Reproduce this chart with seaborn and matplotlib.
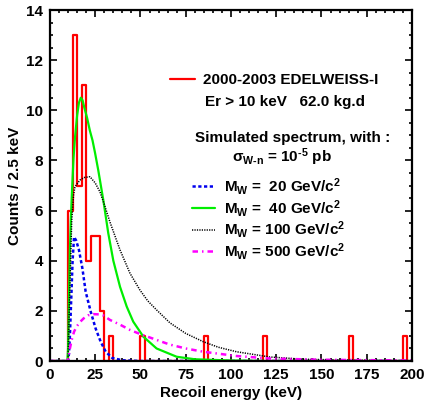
import numpy as np
import pandas as pd
import seaborn as sns
import matplotlib
matplotlib.use("Agg")
import matplotlib.pyplot as plt
from matplotlib.lines import Line2D
from matplotlib.ticker import MultipleLocator

# EDELWEISS-I data: low edge of the non-empty 2.5 keV bins and their counts
hist_low = [10, 12.5, 15, 17.5, 20, 22.5, 25, 27.5, 32.5, 50, 85, 117.5, 165, 195]
hist_counts = [6, 13, 7, 11, 4, 5, 5, 2, 1, 1, 1, 1, 1, 1]
bin_width = 2.5

# simulated spectra (recoil energy in keV, counts / 2.5 keV)
blue_e = [0, 10, 10.5, 11, 11.5, 12, 12.5, 13.3, 14.5, 16, 17.9, 19.7, 22.5, 25.2, 28, 30.8, 34.4, 40, 50, 200]
blue_v = [0, 0, 0.3, 1.0, 2.0, 3.0, 4.0, 4.95, 4.8, 4.43, 3.7, 2.77, 1.97, 1.3, 0.77, 0.37, 0.12, 0.03, 0.0, 0.0]

green_e = [0, 9.6, 10, 10.5, 11, 11.5, 12, 12.5, 13, 13.8, 15, 16, 17, 18, 19, 20.5, 22, 23.5, 24.9, 26.7, 29.5,
           32.2, 35, 38.7, 42.4, 46, 51.6, 58.9, 70, 80, 100, 120, 200]
green_v = [0, 0, 0.5, 2.5, 4.4, 5.6, 6.5, 7.3, 8.1, 8.9, 9.8, 10.3, 10.5, 10.4, 10.1, 9.7, 9.2, 8.8, 8.3, 7.6, 6.4,
           5.1, 4.0, 2.96, 2.17, 1.57, 0.97, 0.5, 0.17, 0.07, 0.02, 0.0, 0.0]

black_e = [0, 9.8, 10, 11, 12, 13, 13.8, 16.6, 19, 22.1, 25, 27.6, 30, 33.1, 38.7, 44.2, 49.7, 54, 59, 66.3, 75,
           84.7, 93, 103, 121.5, 140, 170, 200]
black_v = [0, 0, 0.2, 3.0, 5.6, 6.6, 6.95, 7.22, 7.32, 7.35, 7.1, 6.75, 6.25, 5.55, 4.43, 3.5, 2.83, 2.4, 2.03,
           1.52, 1.1, 0.77, 0.55, 0.37, 0.16, 0.07, 0.03, 0.01]

mag_e = [0, 9.8, 10, 11, 12, 13.3, 14.7, 16.5, 18.6, 21, 24, 27, 29.7, 33.1, 38.7, 44.2, 50, 59, 66, 75, 84.7,
         103, 121.5, 150, 200]
mag_v = [0, 0, 0.1, 0.5, 0.84, 1.17, 1.37, 1.55, 1.7, 1.82, 1.87, 1.86, 1.81, 1.64, 1.45, 1.24, 1.07, 0.84, 0.66,
         0.5, 0.37, 0.2, 0.1, 0.05, 0.02]

mass_labels = ["M$_{W}$ =  20 GeV/c$^{2}$", "M$_{W}$ =  40 GeV/c$^{2}$",
               "M$_{W}$ = 100 GeV/c$^{2}$", "M$_{W}$ = 500 GeV/c$^{2}$"]

blue_ls = (0, (1.3, 1.0))
black_ls = (0, (0.8, 0.8))
mag_ls = (0, (2.2, 1.6, 0.6, 1.6))

sns.set_style("ticks")
plt.rcParams['font.family'] = ['Liberation Sans', 'DejaVu Sans']
plt.rcParams['font.weight'] = 'bold'
plt.rcParams['font.size'] = 11
plt.rcParams['text.color'] = 'black'
plt.rcParams['axes.labelcolor'] = 'black'
plt.rcParams['axes.edgecolor'] = 'black'
plt.rcParams['xtick.color'] = 'black'
plt.rcParams['ytick.color'] = 'black'
plt.rcParams['mathtext.fontset'] = 'custom'
plt.rcParams['mathtext.rm'] = 'Liberation Sans:bold'
plt.rcParams['mathtext.it'] = 'Liberation Sans:bold'
plt.rcParams['mathtext.bf'] = 'Liberation Sans:bold'
plt.rcParams['mathtext.default'] = 'rm'

fig = plt.figure(figsize=(4.25, 4.04), dpi=100)
ax = fig.add_axes([0.1176, 0.1064, 0.8518, 0.8688])

# histogram of the data
hist_df = pd.DataFrame({"energy": [lo + bin_width / 2 for lo in hist_low], "counts": hist_counts})
sns.histplot(data=hist_df, x="energy", weights="counts", binwidth=bin_width, binrange=(0, 200),
             element="step", fill=False, color="red", linewidth=1.6, ax=ax)

# simulated spectra
sns.lineplot(x=blue_e, y=blue_v, color="#0000ee", linestyle=blue_ls, linewidth=1.8, ax=ax)
sns.lineplot(x=green_e, y=green_v, color="#00ee00", linestyle="-", linewidth=1.6, ax=ax)
sns.lineplot(x=black_e, y=black_v, color="black", linestyle=black_ls, linewidth=1.1, ax=ax)
sns.lineplot(x=mag_e, y=mag_v, color="#ff00ff", linestyle=mag_ls, linewidth=1.8, ax=ax)

ax.set_xlim(0, 200)
ax.set_ylim(0, 14)
ax.xaxis.set_major_locator(MultipleLocator(25))
ax.xaxis.set_minor_locator(MultipleLocator(5))
ax.yaxis.set_major_locator(MultipleLocator(2))
ax.yaxis.set_minor_locator(MultipleLocator(0.5))
ax.tick_params(which="both", direction="in", top=True, right=True, width=1.2, labelsize=11, pad=5)
ax.tick_params(which="major", length=5)
ax.tick_params(which="minor", length=2.5)
for sp in ax.spines.values():
    sp.set_linewidth(1.6)
    sp.set_visible(True)

ax.set_xlabel("Recoil energy (keV)", fontsize=11, fontweight="bold", labelpad=3)
ax.set_ylabel("Counts / 2.5 keV", fontsize=11, fontweight="bold", labelpad=3)

# legend block
h_data = [Line2D([], [], color="red", linewidth=1.6)]
leg1 = ax.legend(h_data, ["2000-2003 EDELWEISS-I"], loc="center left",
                 bbox_to_anchor=(0.331, 0.80), frameon=False, borderpad=0, borderaxespad=0,
                 handlelength=1.65, handletextpad=0.5, fontsize=11)
ax.add_artist(leg1)

ax.text(0.428, 0.738, "Er > 10 keV   62.0 kg.d", transform=ax.transAxes, va="center", fontsize=11)
ax.text(0.401, 0.6345, "Simulated spectrum, with :", transform=ax.transAxes, va="center", fontsize=11)
ax.text(0.502, 0.580, r"$\sigma_{W\text{-}n}$ = 10$^{\text{-}5}$ pb", transform=ax.transAxes,
        va="center", fontsize=11)

h_sim = [Line2D([], [], color="#0000ee", linestyle=blue_ls, linewidth=1.8),
         Line2D([], [], color="#00ee00", linewidth=1.6),
         Line2D([], [], color="black", linestyle=black_ls, linewidth=1.1),
         Line2D([], [], color="#ff00ff", linestyle=mag_ls, linewidth=1.8)]
ax.legend(h_sim, mass_labels, loc="upper left", bbox_to_anchor=(0.391, 0.527),
          frameon=False, borderpad=0, borderaxespad=0, handlelength=1.55,
          handletextpad=0.6, labelspacing=0.04, fontsize=11)

fig.savefig("out.png", dpi=100)
